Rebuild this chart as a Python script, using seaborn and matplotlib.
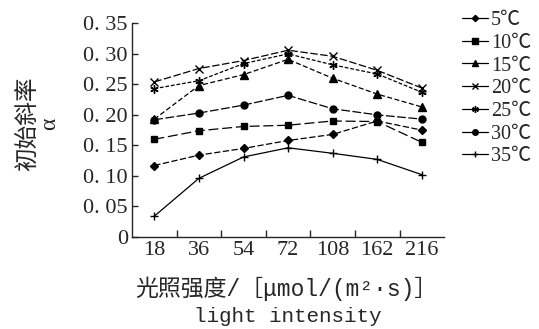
import numpy as np
import pandas as pd
import seaborn as sns
import matplotlib
matplotlib.use("Agg")
import matplotlib.pyplot as plt
from matplotlib.lines import Line2D
from matplotlib.ticker import FixedLocator, FixedFormatter

# ---- data ----
light = ['18', '36', '54', '72', '108', '162', '216']
temps = ['5℃', '10℃', '15℃', '20℃', '25℃', '30℃', '35℃']
t5 = [0.117, 0.134, 0.145, 0.158, 0.168, 0.190, 0.175]
t10 = [0.160, 0.174, 0.181, 0.183, 0.190, 0.189, 0.155]
t15 = [0.193, 0.248, 0.266, 0.291, 0.260, 0.234, 0.213]
t20 = [0.254, 0.276, 0.289, 0.306, 0.296, 0.273, 0.244]
t25 = [0.243, 0.256, 0.284, 0.300, 0.282, 0.267, 0.237]
t30 = [0.192, 0.203, 0.216, 0.232, 0.210, 0.200, 0.193]
t35 = [0.034, 0.096, 0.131, 0.146, 0.137, 0.127, 0.102]
yticks = [0, 0.05, 0.10, 0.15, 0.20, 0.25, 0.30, 0.35]
ytick_labels = ['0', '0. 05', '0. 10', '0. 15', '0. 20', '0. 25', '0. 30', '0. 35']

series = [t5, t10, t15, t20, t25, t30, t35]

sns.set_style("ticks")
plt.rcParams['font.family'] = ['Liberation Serif', 'Noto Sans CJK SC', 'DejaVu Sans']
plt.rcParams['axes.linewidth'] = 1.0

markers = {'5℃': 'D', '10℃': 's', '15℃': '^', '20℃': 'x',
           '25℃': (6, 2, 0), '30℃': 'o', '35℃': '+'}
msizes = {'5℃': 4, '10℃': 5, '15℃': 5.5, '20℃': 6,
          '25℃': 6, '30℃': 5, '35℃': 6}
lstyles = {'5℃': (0, (5, 2)), '10℃': (0, (8, 3)), '15℃': (0, (4, 2)), '20℃': (0, (6, 2)),
           '25℃': (0, (3, 1.5)), '30℃': (0, (7, 2)), '35℃': '-'}

fig = plt.figure(figsize=(5.39, 3.29), dpi=100)
ax = fig.add_axes([0.245, 0.28, 0.579, 0.649])

for name, vals in zip(temps, series):
    d = pd.DataFrame({'light': pd.Categorical(light, categories=light), 'alpha': vals})
    sns.lineplot(data=d, x='light', y='alpha', ax=ax, color='black',
                 marker=markers[name], markersize=msizes[name], markeredgewidth=1.0,
                 markeredgecolor='black', linestyle=lstyles[name], linewidth=0.9,
                 sort=False, legend=False)

ax.set_xlim(-0.5, 6.5)
ax.set_ylim(0, 0.35)
for s in ['top', 'right']:
    ax.spines[s].set_visible(False)

ax.yaxis.set_major_locator(FixedLocator(yticks))
ax.yaxis.set_major_formatter(FixedFormatter(ytick_labels))
ax.tick_params(axis='y', direction='in', length=4, width=1, labelsize=16, pad=3)

ax.set_xticks(range(len(light)))
ax.set_xticklabels(light)
ax.set_xticks([i + 0.5 for i in range(len(light) - 1)], minor=True)
ax.tick_params(axis='x', which='major', length=0, labelsize=16, pad=3)
ax.tick_params(axis='x', which='minor', direction='in', length=5, width=1)

ax.set_xlabel('')
ax.set_ylabel('初始斜率\nα', fontsize=17, linespacing=0.95)
ax.yaxis.set_label_coords(-0.23, 0.53)

fig.text(286 / 539, 1 - 289 / 329, '光照强度/［μmol/(m²·s)］', ha='center', va='center',
         fontsize=16.5, family=['Liberation Mono', 'Noto Sans CJK SC'])
fig.text(288 / 539, 1 - 317 / 329, 'light intensity', ha='center', va='center',
         fontsize=15, family=['Liberation Mono'])

handles = [Line2D([], [], color='black', marker=markers[t], markersize=msizes[t] * 0.8,
                  linewidth=0.9, markeredgewidth=1.0) for t in temps]
fig.legend(handles, temps, loc='upper left', bbox_to_anchor=(462 / 539, 1 - 11 / 329),
           frameon=False, handlelength=1.3, handletextpad=0.15, labelspacing=0.18,
           fontsize=14.5, borderaxespad=0, borderpad=0)

fig.savefig('out.png', dpi=100)
